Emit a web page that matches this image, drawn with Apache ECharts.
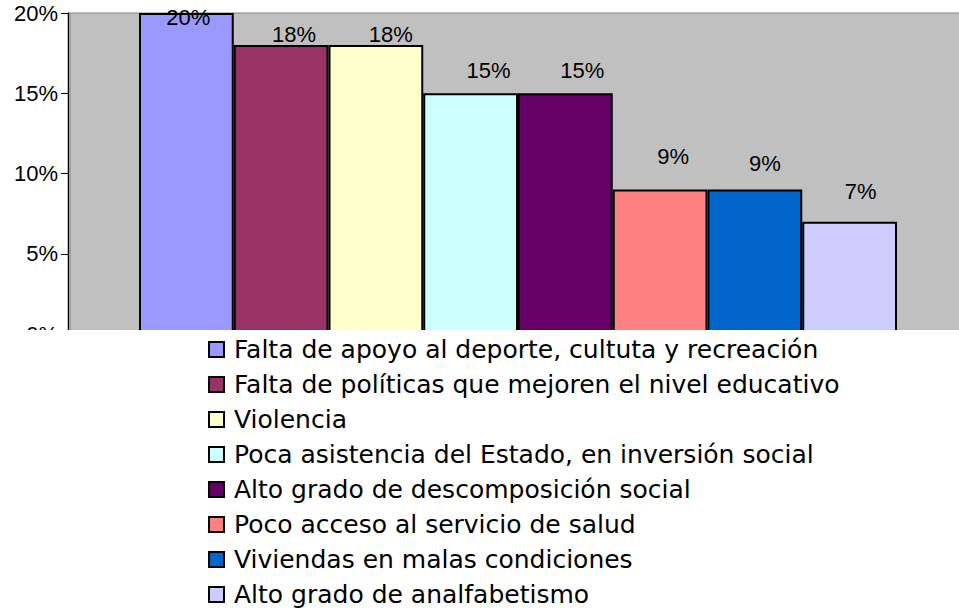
<!DOCTYPE html>
<html>
<head>
<meta charset="utf-8">
<script src="https://cdn.jsdelivr.net/npm/echarts@6/dist/echarts.min.js"></script>
<style>
  html, body { margin: 0; padding: 0; background: #fff; overflow: hidden; }
  #chart { width: 980px; height: 615px; }
</style>
</head>
<body>
<div id="chart"></div>
<script>
// data
const causes = [
  'Falta de apoyo al deporte, cultuta y recreación',
  'Falta de políticas que mejoren el nivel educativo',
  'Violencia',
  'Poca asistencia del Estado, en inversión social',
  'Alto grado de descomposición social',
  'Poco acceso al servicio de salud',
  'Viviendas en malas condiciones',
  'Alto grado de analfabetismo'
];
const percents = [20, 18, 18, 15, 15, 9, 9, 7];
const yTicks = [0, 5, 10, 15, 20];

// styling
const colors = ['#9999FF', '#993366', '#FFFFCC', '#CCFFFF', '#660066', '#FF8080', '#0066CC', '#CCCCFF'];
const labelOffsets = [[2, 15], [13, 0], [15, 0], [18, -12], [17, -12], [13, -22], [10, -15], [11, -19]];

// the plot runs past the right edge of the window, so the chart is a bit wider than 959
const chart = echarts.init(document.getElementById('chart'), null, { renderer: 'svg' });

const series = causes.map((name, i) => ({
  name: name,
  type: 'bar',
  data: [percents[i]],
  barWidth: 94.75,
  barGap: '0%',
  itemStyle: { color: colors[i], borderColor: '#000', borderWidth: 2 },
  label: {
    show: true,
    position: 'top',
    distance: 0,
    offset: labelOffsets[i],
    formatter: '{c}%',
    fontFamily: 'Liberation Sans, Arial, sans-serif',
    fontSize: 22,
    color: '#000'
  }
}));

const option = {
  animation: false,
  grid: {
    left: 68,
    top: 13,
    width: 900,
    height: 321,
    show: true,
    backgroundColor: '#C0C0C0',
    borderColor: '#808080',
    borderWidth: 1
  },
  xAxis: {
    type: 'category',
    data: [''],
    axisLine: { show: false },
    axisTick: { show: false },
    axisLabel: { show: false }
  },
  yAxis: {
    type: 'value',
    min: yTicks[0],
    max: yTicks[yTicks.length - 1],
    interval: 5,
    axisLine: { show: true, lineStyle: { color: '#000', width: 1 } },
    axisTick: { show: true, length: 7, lineStyle: { color: '#000' } },
    splitLine: { show: false },
    axisLabel: {
      margin: 10,
      formatter: '{value}%',
      fontFamily: 'Liberation Sans, Arial, sans-serif',
      fontSize: 22,
      color: '#000'
    }
  },
  legend: {
    orient: 'vertical',
    left: 208,
    top: 337,
    height: 290,
    padding: 0,
    z: 200,
    itemWidth: 15,
    itemHeight: 15,
    itemGap: 10,
    icon: 'rect',
    selectedMode: false,
    data: causes,
    textStyle: {
      fontFamily: 'DejaVu Sans, sans-serif',
      fontSize: 25,
      lineHeight: 25,
      color: '#000',
      padding: [0, 0, 0, 5]
    }
  },
  graphic: [{
    type: 'rect',
    z: 150,
    shape: { x: 0, y: 330, width: 980, height: 285 },
    style: { fill: '#fff' }
  }, {
    // lighter shadow line next to the value axis
    type: 'rect',
    z: 10,
    shape: { x: 69, y: 13, width: 2, height: 317 },
    style: { fill: '#A0A0A0' }
  }],
  series: series
};

chart.setOption(option);
</script>
</body>
</html>
